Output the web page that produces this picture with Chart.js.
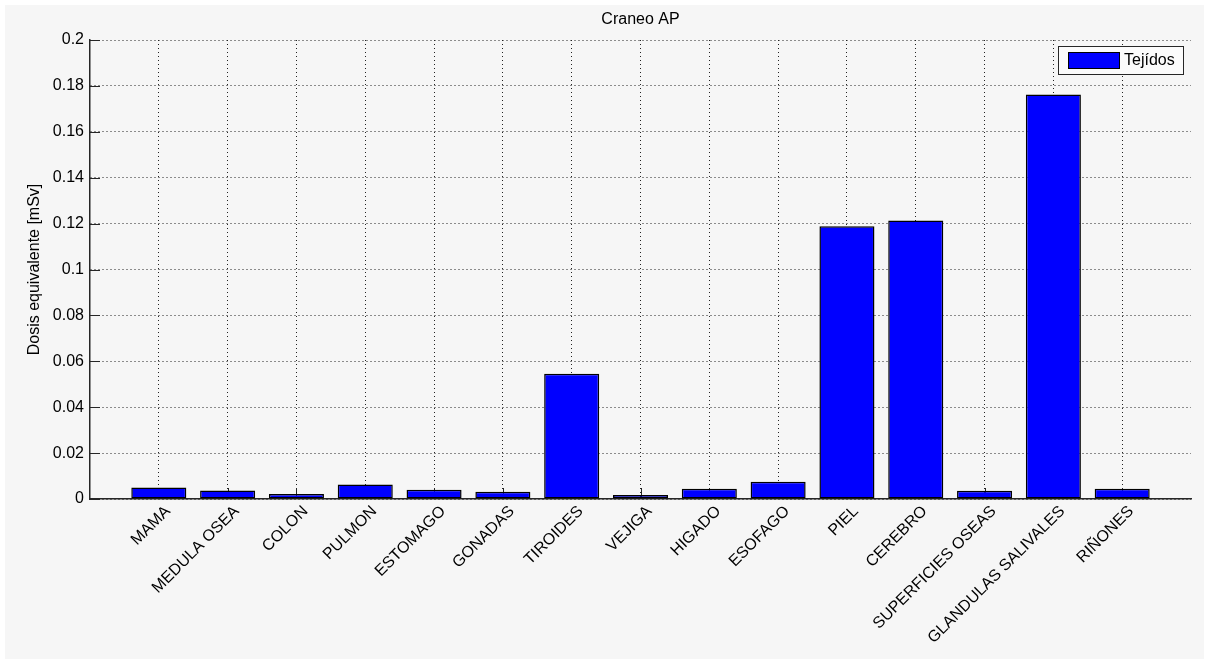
<!DOCTYPE html>
<html lang="es">
<head>
<meta charset="UTF-8">
<title>Craneo AP</title>
<script src="https://cdn.jsdelivr.net/npm/chart.js"></script>
<style>
  html, body { margin: 0; padding: 0; background: #fff; }
</style>
</head>
<body>
<canvas id="myChart" width="1209" height="662"></canvas>
<script>
// dosis equivalente por tejido, en mSv
var tejidos = ['MAMA', 'MEDULA OSEA', 'COLON', 'PULMON', 'ESTOMAGO', 'GONADAS', 'TIROIDES', 'VEJIGA',
               'HIGADO', 'ESOFAGO', 'PIEL', 'CEREBRO', 'SUPERFICIES OSEAS', 'GLANDULAS SALIVALES', 'RIÑONES'];
var dosis = [0.0050, 0.0037, 0.0022, 0.0063, 0.0040, 0.0032, 0.0546, 0.0017,
             0.0045, 0.0075, 0.1188, 0.1214, 0.0036, 0.1762, 0.0045];
var yTicks = [0, 0.02, 0.04, 0.06, 0.08, 0.1, 0.12, 0.14, 0.16, 0.18, 0.2];
var titulo = 'Craneo AP';
var serie = 'Tejídos';

var FONT = "'Liberation Sans', Arial, sans-serif";
Chart.defaults.font.family = FONT;
Chart.defaults.font.size = 16;
Chart.defaults.color = '#000';

// fondo gris de la figura con el borde blanco
var fondo = {
    id: 'fondo',
    beforeDraw: function(chart) {
        var ctx = chart.ctx;
        ctx.save();
        ctx.fillStyle = '#ffffff';
        ctx.fillRect(0, 0, chart.width, chart.height);
        ctx.fillStyle = '#f6f6f6';
        ctx.fillRect(5, 5, chart.width - 10, chart.height - 8);
        ctx.restore();
    }
};

// marcas de los ejes hacia dentro, debajo de las barras
var marcas = {
    id: 'marcas',
    beforeDatasetsDraw: function(chart) {
        var ctx = chart.ctx, a = chart.chartArea;
        var xs = chart.scales.x, ys = chart.scales.y;
        ctx.save();
        ctx.strokeStyle = '#262626';
        ctx.lineWidth = 1;
        ctx.beginPath();
        xs.ticks.forEach(function(t) {
            var px = Math.round(xs.getPixelForValue(t.value)) + 0.5;
            ctx.moveTo(px, a.bottom);
            ctx.lineTo(px, a.bottom - 11);
        });
        ys.ticks.forEach(function(t) {
            var py = Math.round(ys.getPixelForValue(t.value)) + 0.5;
            ctx.moveTo(a.left, py);
            ctx.lineTo(a.left + 10, py);
        });
        ctx.stroke();
        ctx.restore();
    }
};

// título y leyenda
var textos = {
    id: 'textos',
    afterDraw: function(chart) {
        var ctx = chart.ctx, a = chart.chartArea;
        ctx.save();
        ctx.fillStyle = '#000';
        ctx.font = '16px ' + FONT;
        ctx.textAlign = 'center';
        ctx.textBaseline = 'middle';
        ctx.fillText(titulo, (a.left + a.right) / 2, 20);

        var bx = 1058, by = 46, bw = 125, bh = 28;
        ctx.fillStyle = '#fbfbfb';
        ctx.fillRect(bx, by, bw, bh);
        ctx.strokeStyle = '#262626';
        ctx.lineWidth = 1;
        ctx.strokeRect(bx + 0.5, by + 0.5, bw, bh);
        var ds = chart.data.datasets[0];
        ctx.fillStyle = ds.backgroundColor;
        ctx.fillRect(1068, 52, 51, 16);
        ctx.strokeStyle = '#000';
        ctx.strokeRect(1068.5, 52.5, 51, 16);
        ctx.fillStyle = '#000';
        ctx.textAlign = 'left';
        ctx.fillText(ds.label, 1124, 61);
        ctx.restore();
    }
};

var ctx = document.getElementById('myChart').getContext('2d');
var myChart = new Chart(ctx, {
    type: 'bar',
    data: {
        datasets: [{
            label: serie,
            data: tejidos.map(function(t, i) { return { x: i + 1, y: dosis[i] }; }),
            backgroundColor: '#0000ff',
            borderColor: '#000000',
            borderWidth: 1.5,
            borderSkipped: false,
            barPercentage: 0.8,
            categoryPercentage: 1.0
        }]
    },
    options: {
        responsive: false,
        animation: false,
        devicePixelRatio: 1,
        layout: { padding: { left: 0, top: 40, right: 18, bottom: 0 } },
        plugins: {
            legend: { display: false },
            title: { display: false },
            tooltip: { enabled: false }
        },
        scales: {
            x: {
                type: 'linear',
                min: 0,
                max: 16,
                offset: false,
                afterBuildTicks: function(scale) {
                    scale.ticks = tejidos.map(function(t, i) { return { value: i + 1 }; });
                },
                afterFit: function(scale) { scale.height = 163; },
                grid: { offset: false, color: '#222', lineWidth: 1, drawTicks: false },
                border: { display: true, color: '#262626', width: 1.5, dash: [1, 3] },
                ticks: {
                    autoSkip: false,
                    minRotation: 45,
                    maxRotation: 45,
                    padding: 3,
                    labelOffset: 9,
                    callback: function(v) { return tejidos[v - 1] || ''; }
                }
            },
            y: {
                min: 0,
                max: 0.2,
                afterBuildTicks: function(scale) {
                    scale.ticks = yTicks.map(function(v) { return { value: v }; });
                },
                afterFit: function(scale) { scale.width = 90; },
                grid: { color: '#222', lineWidth: 1, drawTicks: false },
                border: { display: true, color: '#262626', width: 1.5, dash: [1, 3] },
                ticks: {
                    padding: 6,
                    callback: function(v) { return String(+v.toFixed(2)); }
                },
                title: {
                    display: true,
                    text: 'Dosis equivalente [mSv]',
                    font: { size: 16 },
                    padding: { top: 25, bottom: 0 }
                }
            }
        }
    },
    plugins: [fondo, marcas, textos]
});
</script>
</body>
</html>
